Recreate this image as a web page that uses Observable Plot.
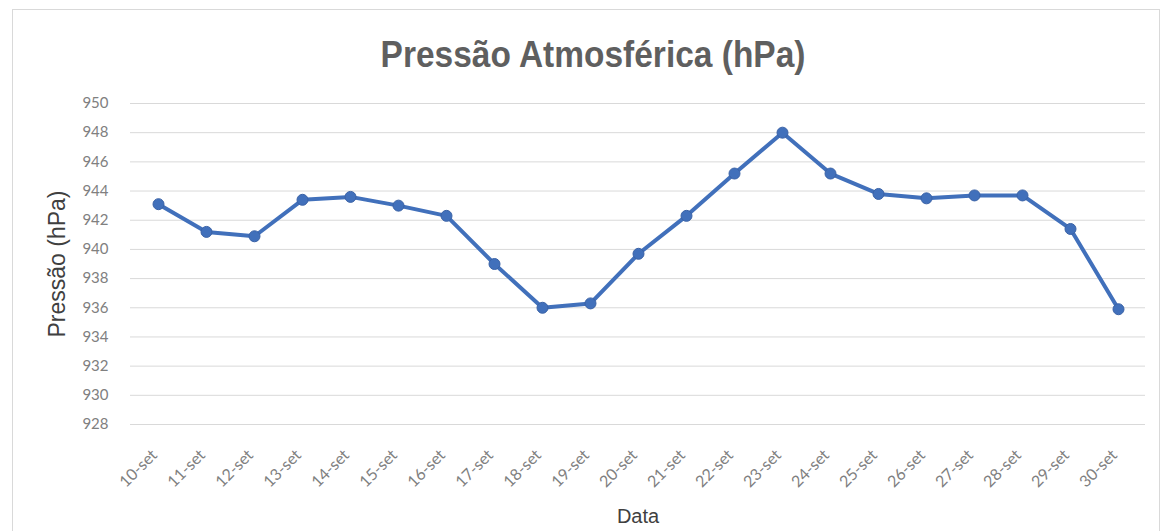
<!DOCTYPE html>
<html>
<head>
<meta charset="utf-8">
<script src="https://cdn.jsdelivr.net/npm/d3@7"></script>
<script src="https://cdn.jsdelivr.net/npm/@observablehq/plot@0.6"></script>
<style>
  html, body { margin: 0; padding: 0; background: #fff; }
  #wrap { position: relative; width: 1170px; height: 531px; overflow: hidden; }
  #frame { position: absolute; left: 12px; top: 9px; width: 1148px; height: 540px; border: 1px solid #d9d9d9; box-sizing: border-box; }
  #title { position: absolute; left: 8px; width: 1170px; top: 34px; text-align: center; line-height: 41px;
           font-family: "Liberation Sans", Arial, sans-serif; font-weight: bold; font-size: 36px; color: #5f5f5f;
           transform: scaleX(0.93); transform-origin: 585px 0; }
  #chart { position: absolute; left: 0; top: 90px; }
</style>
</head>
<body>
<div id="wrap">
  <div id="frame"></div>
  <div id="title">Pressão Atmosférica (hPa)</div>
  <div id="chart"></div>
</div>
<script>
const dates = ["10-set","11-set","12-set","13-set","14-set","15-set","16-set","17-set","18-set","19-set","20-set",
               "21-set","22-set","23-set","24-set","25-set","26-set","27-set","28-set","29-set","30-set"];
const pressure = [943.1, 941.2, 940.9, 943.4, 943.6, 943.0, 942.3, 939.0, 936.0, 936.3, 939.7,
                  942.3, 945.2, 948.0, 945.2, 943.8, 943.5, 943.7, 943.7, 941.4, 935.9];
const yTicks = [928, 930, 932, 934, 936, 938, 940, 942, 944, 946, 948, 950];

const data = dates.map((d, i) => ({date: d, value: pressure[i]}));
const color = "#4170bb";

const chart = Plot.plot({
  width: 1170,
  height: 441,
  marginTop: 13,
  marginBottom: 107,
  marginLeft: 130,
  marginRight: 25,
  style: {fontFamily: "Lato, 'Liberation Sans', sans-serif", fontSize: "15px", color: "#808080", background: "transparent"},
  x: {type: "point", domain: dates, padding: 0.5},
  y: {domain: [928, 950]},
  marks: [
    Plot.ruleY(yTicks, {stroke: "#d9d9d9", strokeWidth: 1}),
    Plot.axisY({ticks: yTicks, tickSize: 0, tickPadding: 22, label: "Pressão (hPa)", labelAnchor: "center",
                labelArrow: "none", labelOffset: 82, fill: "#808080"}),
    Plot.axisX({tickSize: 0, tickPadding: 28, tickRotate: -45, dx: -4, label: "Data", labelAnchor: "center",
                labelArrow: "none", labelOffset: 98, fill: "#808080", fontSize: 16}),
    Plot.line(data, {x: "date", y: "value", stroke: color, strokeWidth: 4, strokeLinejoin: "round"}),
    Plot.dot(data, {x: "date", y: "value", r: 5.5, fill: color, stroke: "#3a62a6", strokeWidth: 1})
  ]
});
document.getElementById("chart").appendChild(chart);
// style axis titles (Pressão (hPa) and Data) darker and larger
chart.querySelectorAll("[aria-label='y-axis label'] text").forEach(t => {
  t.setAttribute("fill", "#404040");
  t.style.fontFamily = "'Liberation Sans', Arial, sans-serif";
  t.style.fontSize = "23px";
});
chart.querySelectorAll("[aria-label='x-axis label'] text").forEach(t => {
  t.setAttribute("fill", "#404040");
  t.style.fontFamily = "'Liberation Sans', Arial, sans-serif";
  t.style.fontSize = "20px";
});
</script>
</body>
</html>
